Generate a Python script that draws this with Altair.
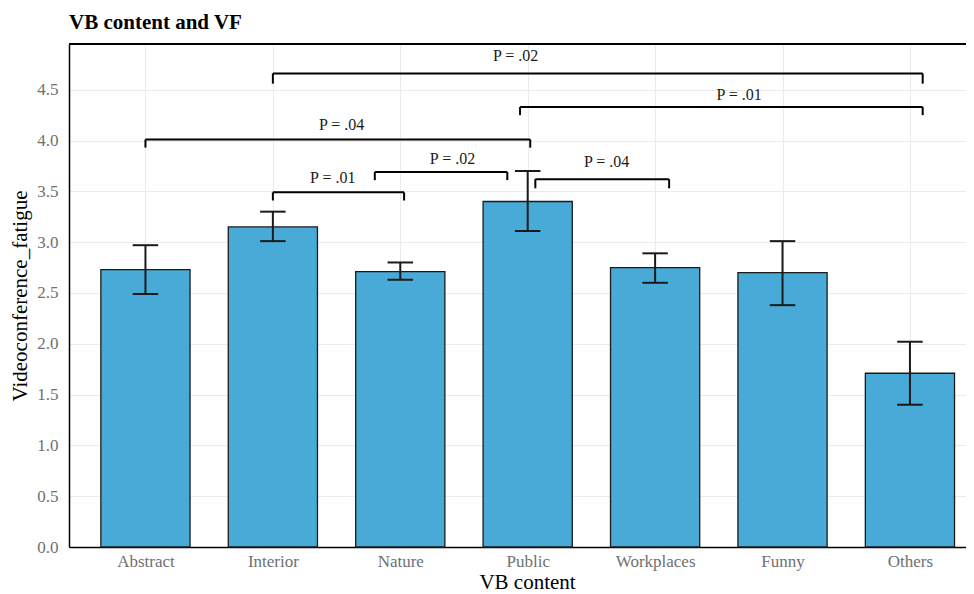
import json
import altair as alt
import pandas as pd

categories = ["Abstract", "Interior", "Nature", "Public", "Workplaces", "Funny", "Others"]
means = [2.73, 3.15, 2.71, 3.40, 2.75, 2.70, 1.71]
lower = [2.49, 3.01, 2.63, 3.11, 2.60, 2.38, 1.40]
upper = [2.97, 3.30, 2.80, 3.70, 2.89, 3.01, 2.02]

bracket_x1 = [2.0, 3.94, 1.0, 2.0, 2.80, 4.06]
bracket_x2 = [7.1, 7.1, 4.02, 3.03, 3.84, 5.11]
bracket_y = [4.66, 4.33, 4.01, 3.49, 3.69, 3.62]
bracket_tip = [4.56, 4.25, 3.93, 3.41, 3.61, 3.53]
label_x = [3.905, 5.66, 2.54, 2.47, 3.41, 4.62]
label_y = [4.83, 4.45, 4.15, 3.63, 3.82, 3.79]
labels = ["P = .02", "P = .01", "P = .04", "P = .01", "P = .02", "P = .04"]

FONT = "Liberation Serif"
W, H = 897, 503

bars = pd.DataFrame({
    "pos": list(range(1, len(categories) + 1)),
    "cat": categories,
    "mean": means,
    "lo": lower,
    "hi": upper,
})
brk = pd.DataFrame({"x1": bracket_x1, "x2": bracket_x2, "y": bracket_y, "tip": bracket_tip})
lab = pd.DataFrame({"x": label_x, "y": label_y, "t": labels})

xscale = alt.Scale(domain=[0.4, 7.44], nice=False, zero=False)
yscale = alt.Scale(domain=[0, 4.95], nice=False)

x_axis = alt.Axis(
    values=list(range(1, len(categories) + 1)),
    labelExpr=json.dumps(categories) + "[datum.value - 1]",
    grid=True, gridColor="#EBEBEB", gridWidth=1.1,
    ticks=False, domainColor="black", domainWidth=1.5,
    labelFont=FONT, labelFontSize=17, labelColor="#707070", labelPadding=6,
    title="VB content", titleFont=FONT, titleFontSize=21, titleFontWeight="normal",
    titleColor="black", titlePadding=2, titleX=458, titleAlign="center", labelFlush=False,
)
y_axis = alt.Axis(
    values=[i * 0.25 for i in range(0, 20)],
    labelExpr="datum.value % 0.5 == 0 ? format(datum.value, '.1f') : ''",
    grid=True, gridColor="#EBEBEB",
    gridWidth={"condition": {"test": "datum.value % 0.5 == 0", "value": 1.1}, "value": 0.6},
    ticks=False, domainColor="black", domainWidth=1.5,
    labelFont=FONT, labelFontSize=17, labelColor="#707070", labelPadding=11,
    title="Videoconference_fatigue", titleFont=FONT, titleFontSize=21, titleFontWeight="normal",
    titleColor="black", titlePadding=6,
)

base = alt.Chart(bars)

bar_layer = base.transform_calculate(
    xa="datum.pos - 0.35", xb="datum.pos + 0.35"
).mark_bar(fill="#48AAD6", stroke="#1a1a1a", strokeWidth=1.3).encode(
    x=alt.X("xa:Q", scale=xscale, axis=x_axis),
    x2="xb:Q",
    y=alt.Y("mean:Q", scale=yscale, axis=y_axis),
    y2=alt.datum(0),
)

err_v = base.mark_rule(color="#1a1a1a", strokeWidth=2).encode(
    x=alt.X("pos:Q", scale=xscale), y=alt.Y("lo:Q", scale=yscale), y2="hi:Q"
)
cap_lo = base.transform_calculate(
    xa="datum.pos - 0.1", xb="datum.pos + 0.1"
).mark_rule(color="#1a1a1a", strokeWidth=2).encode(
    x=alt.X("xa:Q", scale=xscale), x2="xb:Q", y=alt.Y("lo:Q", scale=yscale)
)
cap_hi = base.transform_calculate(
    xa="datum.pos - 0.1", xb="datum.pos + 0.1"
).mark_rule(color="#1a1a1a", strokeWidth=2).encode(
    x=alt.X("xa:Q", scale=xscale), x2="xb:Q", y=alt.Y("hi:Q", scale=yscale)
)

bc = alt.Chart(brk)
br_h = bc.mark_rule(color="black", strokeWidth=2).encode(
    x=alt.X("x1:Q", scale=xscale), x2="x2:Q", y=alt.Y("y:Q", scale=yscale)
)
br_l = bc.mark_rule(color="black", strokeWidth=2).encode(
    x=alt.X("x1:Q", scale=xscale), y=alt.Y("y:Q", scale=yscale), y2="tip:Q"
)
br_r = bc.mark_rule(color="black", strokeWidth=2).encode(
    x=alt.X("x2:Q", scale=xscale), y=alt.Y("y:Q", scale=yscale), y2="tip:Q"
)

txt = alt.Chart(lab).mark_text(
    font=FONT, fontSize=16, color="#1a1a1a", baseline="middle", align="center"
).encode(
    x=alt.X("x:Q", scale=xscale), y=alt.Y("y:Q", scale=yscale), text="t:N"
)

top_border = alt.Chart(bars).mark_rule(color="black", strokeWidth=1.5).encode(
    x=alt.value(0), x2=alt.value(W), y=alt.value(0)
)

chart = alt.layer(
    bar_layer, err_v, cap_lo, cap_hi, br_h, br_l, br_r, txt, top_border
).properties(
    width=W, height=H,
    autosize=alt.AutoSizeParams(type="none"),
    padding={"left": 61, "top": 36, "right": 0, "bottom": 47},
    title=alt.TitleParams(
        "VB content and VF", anchor="start", frame="group", font=FONT, fontSize=21,
        fontWeight="bold", color="black", offset=10,
    ),
).configure_view(strokeOpacity=0).configure(background="white")

chart.save("out.html", embed_options={"renderer": "svg", "actions": False})
